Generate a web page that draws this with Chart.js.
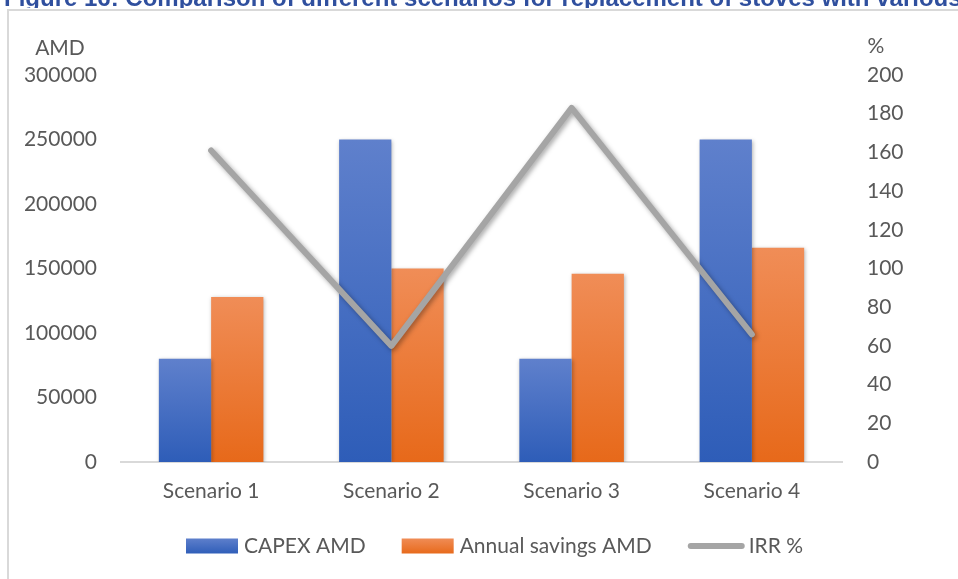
<!DOCTYPE html>
<html>
<head>
<meta charset="utf-8">
<script src="https://cdn.jsdelivr.net/npm/chart.js@4.4.1/dist/chart.umd.min.js"></script>
<style>
  html, body { margin: 0; padding: 0; background: #fff; }
  #wrap { position: relative; width: 958px; height: 579px; overflow: hidden; }
</style>
</head>
<body>
<div id="wrap"><canvas id="myChart" width="958" height="579"></canvas></div>
<script>
'use strict';

// chart data
let scenarios = ['Scenario 1', 'Scenario 2', 'Scenario 3', 'Scenario 4'];
let capexAmd = [80000, 250000, 80000, 250000];
let savingsAmd = [128000, 150000, 146000, 166000];
let irrPercent = [161, 60, 183, 66];
let amdTicks = [0, 50000, 100000, 150000, 200000, 250000, 300000];
let pctTicks = [0, 20, 40, 60, 80, 100, 120, 140, 160, 180, 200];

let titleText = 'Figure 16: Comparison of different scenarios for replacement of stoves with various';
let textColor = '#595959';
let fontFamily = 'Lato, Calibri, sans-serif';
let fontSize = 21;

// vertical gradient per bar, like the office fill
function barFill(topColor, bottomColor) {
  return function (context) {
    let chart = context.chart;
    if (context.type !== 'data' || !chart.chartArea) {
      return bottomColor;
    }
    let yScale = chart.scales.y;
    let g = chart.ctx.createLinearGradient(0, yScale.getPixelForValue(context.raw), 0, yScale.getPixelForValue(0));
    g.addColorStop(0, topColor);
    g.addColorStop(1, bottomColor);
    return g;
  };
}

let shadowPlugin = {
  id: 'shadows',
  beforeDatasetDraw(chart, args) {
    let ctx = chart.ctx;
    ctx.save();
    if (args.meta.type === 'line') {
      ctx.shadowColor = 'rgba(0,0,0,0.35)';
      ctx.shadowBlur = 5;
      ctx.shadowOffsetX = 2;
      ctx.shadowOffsetY = 2;
    } else {
      ctx.shadowColor = 'rgba(0,0,0,0.3)';
      ctx.shadowBlur = 4;
      ctx.shadowOffsetX = 1;
      ctx.shadowOffsetY = 1;
    }
  },
  afterDatasetDraw(chart) {
    chart.ctx.restore();
  }
};

// frame, title, axis units and the legend row
let decorPlugin = {
  id: 'decor',
  beforeDraw(chart) {
    let ctx = chart.ctx;
    ctx.save();
    ctx.strokeStyle = '#d9d9d9';
    ctx.lineWidth = 2;
    ctx.beginPath();
    ctx.moveTo(8, 600);
    ctx.lineTo(8, 10);
    ctx.lineTo(970, 10);
    ctx.stroke();

    // title row is cut off at the top of the picture
    ctx.beginPath();
    ctx.rect(0, 0, 958, 8);
    ctx.clip();
    ctx.fillStyle = '#2f4f9e';
    ctx.font = 'bold 24px "Liberation Sans", Arial, sans-serif';
    ctx.textBaseline = 'alphabetic';
    ctx.textAlign = 'left';
    ctx.fillText(titleText, 4, 6);
    ctx.restore();
  },
  afterDraw(chart) {
    let ctx = chart.ctx;
    ctx.save();
    ctx.fillStyle = textColor;
    ctx.font = fontSize + 'px ' + fontFamily;
    ctx.textBaseline = 'middle';
    ctx.textAlign = 'center';
    ctx.fillText('AMD', 60, 48);
    ctx.fillText('%', 876, 46);

    // legend
    let items = chart.data.datasets.map(function (ds) {
      return { label: ds.label, type: ds.type, top: ds.legendTop, bottom: ds.legendBottom, color: ds.borderColor };
    });
    items.sort(function (a, b) { return a.type === 'line' ? 1 : (b.type === 'line' ? -1 : 0); });
    let x = 186;
    let cy = 546;
    ctx.textAlign = 'left';
    items.forEach(function (item) {
      if (item.type === 'line') {
        ctx.strokeStyle = item.color;
        ctx.lineWidth = 6;
        ctx.lineCap = 'round';
        ctx.beginPath();
        ctx.moveTo(x + 3, cy);
        ctx.lineTo(x + 54, cy);
        ctx.stroke();
        x += 61;
      } else {
        let g = ctx.createLinearGradient(0, cy - 8, 0, cy + 8);
        g.addColorStop(0, item.top);
        g.addColorStop(1, item.bottom);
        ctx.fillStyle = g;
        ctx.fillRect(x, cy - 7.5, 52, 15);
        x += 58;
      }
      ctx.fillStyle = textColor;
      ctx.fillText(item.label, x, cy);
      x += ctx.measureText(item.label).width + 36;
    });
    ctx.restore();
  }
};

let ctx = document.getElementById('myChart').getContext('2d');
let chartObject = {
  type: 'bar',
  data: {
    labels: scenarios,
    datasets: [{
      type: 'line',
      label: 'IRR %',
      data: irrPercent,
      yAxisID: 'y1',
      borderColor: '#a5a5a5',
      borderWidth: 6,
      borderCapStyle: 'round',
      borderJoinStyle: 'round',
      pointRadius: 0,
      fill: false,
      tension: 0,
      order: 0
    },
    {
      label: 'CAPEX AMD',
      data: capexAmd,
      yAxisID: 'y',
      backgroundColor: barFill('#5f80cc', '#2e5db8'),
      borderColor: '#4472c4',
      borderWidth: 0,
      legendTop: '#5f80cc',
      legendBottom: '#2e5db8',
      order: 1
    },
    {
      label: 'Annual savings AMD',
      data: savingsAmd,
      yAxisID: 'y',
      backgroundColor: barFill('#f08d57', '#e7691a'),
      borderColor: '#ed7d31',
      borderWidth: 0,
      legendTop: '#f08d57',
      legendBottom: '#e7691a',
      order: 2
    }]
  },
  options: {
    responsive: false,
    animation: false,
    datasets: {
      bar: { categoryPercentage: 0.58, barPercentage: 1.0 }
    },
    layout: { padding: { top: 75, left: 0, right: 0, bottom: 0 } },
    plugins: {
      legend: { display: false },
      tooltip: { enabled: false },
      title: { display: false }
    },
    scales: {
      x: {
        grid: { display: false, drawTicks: false },
        border: { display: true, color: '#d9d9d9', width: 2 },
        ticks: { color: textColor, font: { family: fontFamily, size: fontSize }, padding: 17 },
        afterFit: function (scale) { scale.height = 117; }
      },
      y: {
        position: 'left',
        min: 0,
        max: 300000,
        grid: { display: false, drawTicks: false },
        border: { display: false },
        afterBuildTicks: function (scale) {
          scale.ticks = amdTicks.map(function (v) { return { value: v }; });
        },
        ticks: {
          color: textColor,
          font: { family: fontFamily, size: fontSize },
          padding: 24,
          callback: function (v) { return String(v); }
        },
        afterFit: function (scale) { scale.width = 121; }
      },
      y1: {
        position: 'right',
        min: 0,
        max: 200,
        grid: { display: false, drawTicks: false },
        border: { display: false },
        afterBuildTicks: function (scale) {
          scale.ticks = pctTicks.map(function (v) { return { value: v }; });
        },
        ticks: {
          color: textColor,
          font: { family: fontFamily, size: fontSize },
          padding: 25
        },
        afterFit: function (scale) { scale.width = 116; }
      }
    }
  },
  plugins: [shadowPlugin, decorPlugin]
};
new Chart(ctx, chartObject); // eslint-disable-line
</script>
</body>
</html>
